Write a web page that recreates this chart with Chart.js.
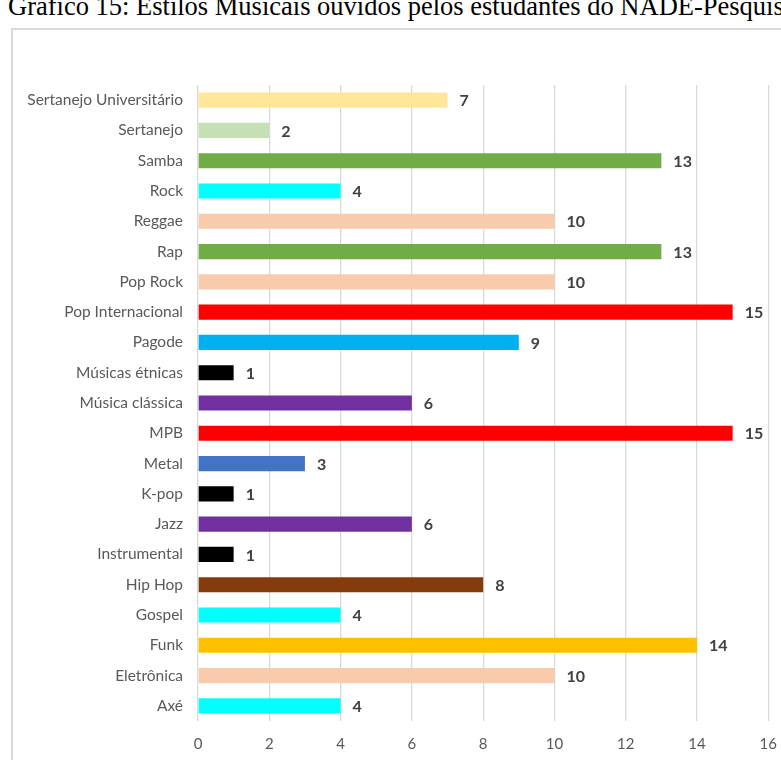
<!DOCTYPE html>
<html>
<head>
<meta charset="utf-8">
<script src="https://cdn.jsdelivr.net/npm/chart.js@4.4.1/dist/chart.umd.min.js"></script>
<style>
    body {
        margin: 0;
        background: #fff;
        overflow: hidden;
        width: 781px;
        height: 760px;
        position: relative;
    }
    #title {
        position: absolute;
        left: 8px;
        top: -9px;
        font-family: "Liberation Serif", "Times New Roman", serif;
        font-size: 26.5px;
        white-space: nowrap;
        color: #000;
    }
    #box {
        position: absolute;
        left: 11px;
        top: 28px;
        width: 800px;
        height: 800px;
        border-left: 2px solid #d9d9d9;
        border-top: 2px solid #d9d9d9;
    }
    #show {
        position: absolute;
        left: 13px;
        top: 14px;
        width: 778px;
        height: 746px;
    }
</style>
</head>
<body>
<div id="title">Gráfico 15: Estilos Musicais ouvidos pelos estudantes do NADE-Pesquisa</div>
<div id="box"></div>
<div id="show"><canvas id="chart" width="778" height="746"></canvas></div>
<script>
    // estilos, de cima para baixo
    var labels = ["Sertanejo Universitário", "Sertanejo", "Samba", "Rock", "Reggae", "Rap", "Pop Rock",
        "Pop Internacional", "Pagode", "Músicas étnicas", "Música clássica", "MPB", "Metal", "K-pop",
        "Jazz", "Instrumental", "Hip Hop", "Gospel", "Funk", "Eletrônica", "Axé"];
    var values = [7, 2, 13, 4, 10, 13, 10, 15, 9, 1, 6, 15, 3, 1, 6, 1, 8, 4, 14, 10, 4];
    var xTicks = [0, 2, 4, 6, 8, 10, 12, 14, 16];

    var colors = ["#ffe699", "#c5e0b4", "#70ad47", "#00ffff", "#f8cbad", "#70ad47", "#f8cbad",
        "#ff0000", "#00b0f0", "#000000", "#7030a0", "#ff0000", "#4472c4", "#000000",
        "#7030a0", "#000000", "#843c0c", "#00ffff", "#ffc000", "#f8cbad", "#00ffff"];

    var font = "Lato, 'Open Sans', sans-serif";

    // numero ao lado de cada barra
    var valueLabels = {
        id: "valueLabels",
        afterDatasetsDraw: function(chart) {
            var ctx = chart.ctx;
            var meta = chart.getDatasetMeta(0);
            ctx.save();
            ctx.font = "bold 16px " + font;
            ctx.fillStyle = "#404040";
            ctx.textAlign = "left";
            ctx.textBaseline = "middle";
            meta.data.forEach(function(bar, i) {
                ctx.fillText(String(values[i]), bar.x + 12, bar.y + 1);
            });
            ctx.restore();
        }
    };

    var ctx = document.getElementById("chart").getContext("2d");
    var bar = new Chart(ctx, {
        type: "bar",
        data: {
            labels: labels,
            datasets: [{
                data: values,
                backgroundColor: colors,
                borderWidth: 0,
                categoryPercentage: 1,
                barPercentage: 0.5
            }]
        },
        options: {
            indexAxis: "y",
            responsive: false,
            animation: false,
            layout: {
                padding: { top: 71, right: 5, left: 0, bottom: 0 }
            },
            plugins: {
                legend: { display: false },
                tooltip: { enabled: false }
            },
            scales: {
                x: {
                    min: xTicks[0],
                    max: xTicks[xTicks.length - 1],
                    afterBuildTicks: function(scale) {
                        scale.ticks = xTicks.map(function(v) { return { value: v }; });
                    },
                    afterFit: function(scale) {
                        scale.height = 39;
                    },
                    ticks: {
                        color: "#595959",
                        font: { family: font, size: 15 },
                        padding: 14,
                        maxRotation: 0
                    },
                    grid: {
                        color: "#d9d9d9",
                        lineWidth: 1.3,
                        drawTicks: false
                    },
                    border: { display: false }
                },
                y: {
                    afterFit: function(scale) {
                        scale.width = 185;
                    },
                    ticks: {
                        color: "#595959",
                        font: { family: font, size: 15.5 },
                        padding: 15
                    },
                    grid: { display: false, drawTicks: false },
                    border: { display: false }
                }
            }
        },
        plugins: [valueLabels]
    });
</script>
</body>
</html>
